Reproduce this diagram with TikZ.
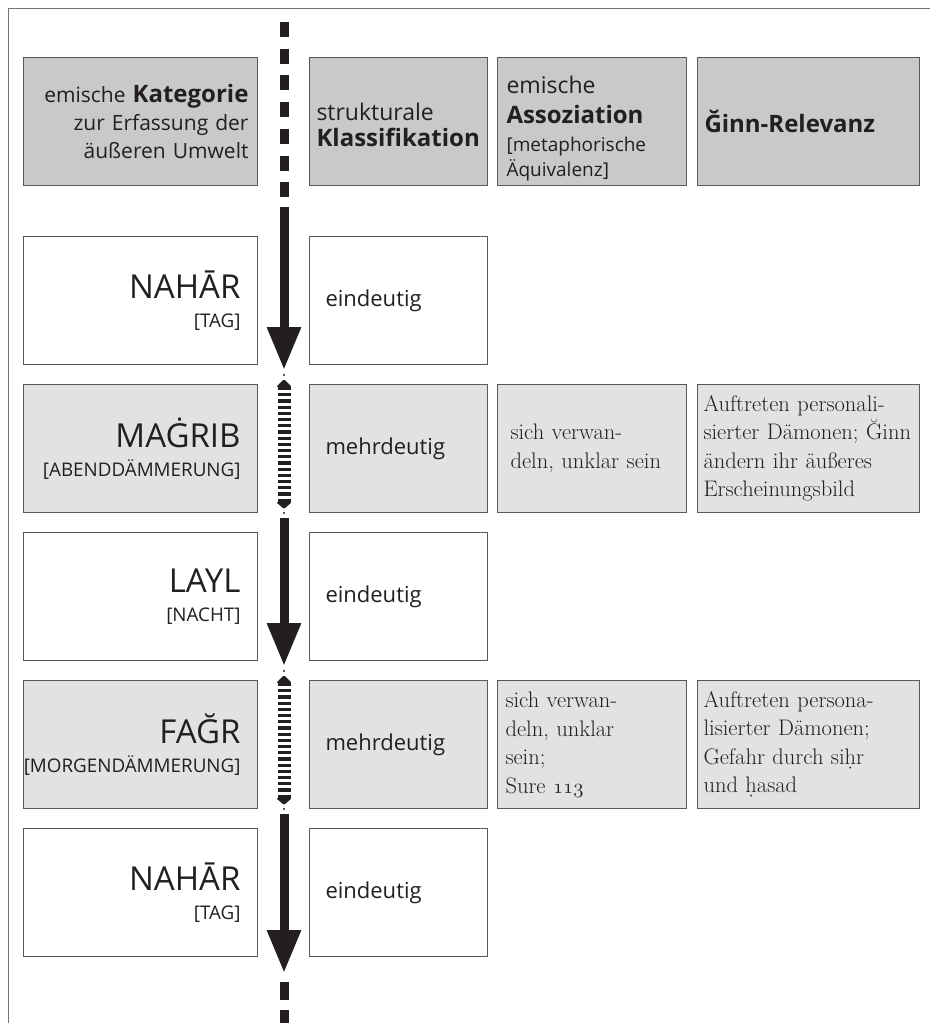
\documentclass[tikz,border=0pt]{standalone}
\usepackage{fontspec}
\setsansfont{Open Sans}
\usetikzlibrary{arrows.meta}

\definecolor{headfill}{HTML}{C8C9CB}
\definecolor{ambfill}{HTML}{E1E2E4}
\definecolor{boxline}{HTML}{58595B}
\definecolor{ink}{HTML}{231F20}

\newcommand{\bighd}[1]{{\bfseries\fontsize{24}{25}\selectfont #1}}
\newcommand{\timename}[1]{{\fontsize{33}{29}\selectfont #1}}
\newcommand{\timesub}[1]{\hbox to \linewidth{\hss\fontsize{18.8}{29}\selectfont #1}}
\newcommand{\oldnums}[1]{{\usefont{OML}{lmm}{m}{it}#1}}

\begin{document}
\begin{tikzpicture}[x=1pt,y=-1pt]
\tikzstyle{every node}+=[inner sep=0pt, text=ink]
\tikzstyle{cell}=[draw=boxline, line width=1pt, minimum height=128pt, anchor=north west]
\tikzstyle{catcell}=[cell, minimum width=234pt, text width=200pt, inner xsep=17pt, align=right, font=\sffamily\fontsize{18.8}{29}\selectfont]
\tikzstyle{classcell}=[cell, minimum width=178pt, text width=146pt, inner xsep=16pt, align=left, font=\sffamily\fontsize{22}{26}\selectfont]
\tikzstyle{assoccell}=[cell, minimum width=189pt, text width=171pt, inner xsep=9pt, align=left, font=\fontsize{22.5}{28.5}\selectfont]
\tikzstyle{ginncell}=[cell, minimum width=222pt, text width=210pt, inner xsep=6pt, align=left, font=\fontsize{22.5}{28.5}\selectfont]
\tikzstyle{axis}=[ink, line width=9pt]
\tikzstyle{solidarrow}=[axis, -{Triangle[width=32pt,length=43pt]}]
\tikzstyle{stripes}=[ink, line width=13pt, dash pattern=on 3.2pt off 3pt]

\useasboundingbox (0,0) rectangle (930,1023);
\draw[black!55, line width=1.3pt] (8.5,1023) -- (8.5,8.5) -- (930,8.5);

\node[catcell, fill=headfill, text width=216pt, inner xsep=9pt, font=\sffamily\fontsize{21}{28}\selectfont] (hcat) at (23,57) {emische \bighd{Kategorie}\\zur Erfassung der\\äußeren Umwelt};
\node[classcell, fill=headfill, text width=164pt, inner xsep=7pt, font=\sffamily\fontsize{23}{26}\selectfont] (hclass) at (309,57) {\rule{0pt}{25pt}strukturale\\\bighd{Klassifikation}};
\node[cell, fill=headfill, minimum width=189pt, text width=171pt, inner xsep=9pt, align=left, font=\sffamily\fontsize{19}{25}\selectfont] (hassoc) at (497,57) {\rule{0pt}{31pt}{\fontsize{23}{25}\selectfont emische}\\[5pt]\bighd{Assoziation}\\[3pt][metaphorische\\Äquivalenz]};
\node[cell, fill=headfill, minimum width=222pt, text width=208pt, inner xsep=7pt, align=left, font=\sffamily] (hginn) at (697,57) {\bighd{Ğinn-Relevanz}};

\node[catcell, fill=white] (nahar) at (23,236) {\timename{NAHĀR}\\\timesub{[TAG]}};
\node[classcell, fill=white] (naharcl) at (309,236) {eindeutig};

\node[catcell, fill=ambfill] (magrib) at (23,384) {\timename{MAĠRIB}\\\timesub{[ABENDDÄMMERUNG]}};
\node[classcell, fill=ambfill] (magribcl) at (309,384) {mehrdeutig};
\node[assoccell, fill=ambfill, text width=163pt, inner xsep=13pt] (magribas) at (497,384) {sich verwan-\\deln, unklar sein};
\node[ginncell, fill=ambfill] (magribgi) at (697,384) {Auftreten personali-\\sierter Dämonen; Ğinn\\ändern ihr äußeres\\Erscheinungsbild};

\node[catcell, fill=white] (layl) at (23,532) {\timename{LAYL}\\\timesub{[NACHT]}};
\node[classcell, fill=white] (laylcl) at (309,532) {eindeutig};

\node[catcell, fill=ambfill] (fagr) at (23,680) {\timename{FAĞR}\\\timesub{[MORGENDÄMMERUNG]}};
\node[classcell, fill=ambfill] (fagrcl) at (309,680) {mehrdeutig};
\node[assoccell, fill=ambfill, text width=173pt, inner xsep=8pt] (fagras) at (497,680) {sich verwan-\\deln, unklar\\sein;\\Sure \oldnums{113}};
\node[ginncell, fill=ambfill] (fagrgi) at (697,680) {Auftreten persona-\\lisierter Dämonen;\\Gefahr durch siḥr\\und ḥasad};

\node[catcell, fill=white] (naharb) at (23,828) {\timename{NAHĀR}\\\timesub{[TAG]}};
\node[classcell, fill=white] (naharbcl) at (309,828) {eindeutig};

\coordinate (axtop) at (284,22);
\coordinate (axhead) at (284,198);
\coordinate (nahartop) at (284,207);
\coordinate (naharend) at (284,370);
\coordinate (magribtop) at (284,387);
\coordinate (magribend) at (284,502);
\coordinate (layltop) at (284,518);
\coordinate (laylend) at (284,666);
\coordinate (fagrtop) at (284,683);
\coordinate (fagrend) at (284,798);
\coordinate (naharbtop) at (284,814);
\coordinate (naharbend) at (284,973);
\coordinate (axfoot) at (284,982);
\coordinate (axbottom) at (284,1023);

\draw[axis, dash pattern=on 15pt off 11.7pt] (axtop) -- (axhead);
\draw[solidarrow] (nahartop) -- (naharend);
\draw[stripes] (magribtop) -- (magribend);
\fill[ink, rounded corners=1.5pt] (276,387) -- (284,379) -- (292,387) -- cycle;
\fill[ink, rounded corners=1.5pt] (276,502) -- (292,502) -- (284,509) -- cycle;
\fill[ink] (284,375) circle (1.2);
\fill[ink] (284,513) circle (1.2);
\draw[solidarrow] (layltop) -- (laylend);
\draw[stripes] (fagrtop) -- (fagrend);
\fill[ink, rounded corners=1.5pt] (276,683) -- (284,675) -- (292,683) -- cycle;
\fill[ink, rounded corners=1.5pt] (276,798) -- (292,798) -- (284,805) -- cycle;
\fill[ink] (284,671) circle (1.2);
\fill[ink] (284,809) circle (1.2);
\draw[solidarrow] (naharbtop) -- (naharbend);
\draw[axis, dash pattern=on 18pt off 10pt] (axfoot) -- (axbottom);
\end{tikzpicture}
\end{document}
